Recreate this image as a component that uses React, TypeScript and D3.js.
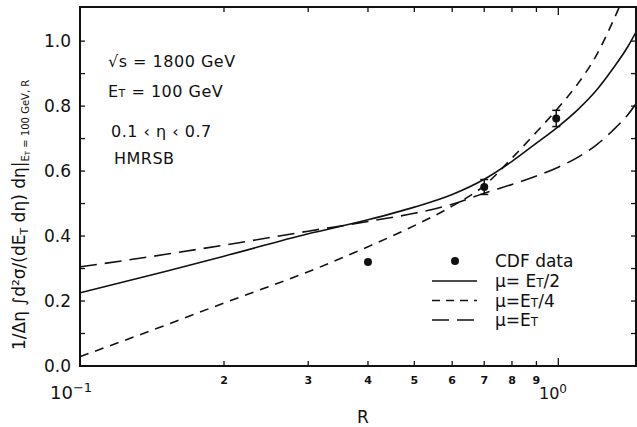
import React from 'react';
import * as d3 from 'd3';

// curve values (R, normalised cross section)
const R_SOLID = [0.1, 0.15, 0.2, 0.3, 0.4, 0.5, 0.6, 0.7, 0.8, 0.9, 1.0, 1.1, 1.2, 1.3, 1.4, 1.45];
const MU_HALF = [0.225, 0.29, 0.338, 0.407, 0.45, 0.489, 0.528, 0.575, 0.63, 0.686, 0.737, 0.79, 0.848, 0.915, 0.985, 1.025];

const R_SHORT = [0.1, 0.15, 0.2, 0.3, 0.4, 0.5, 0.6, 0.7, 0.8, 0.9, 1.0, 1.1, 1.2, 1.3, 1.4];
const MU_QUARTER = [0.029, 0.124, 0.194, 0.29, 0.367, 0.432, 0.492, 0.555, 0.64, 0.72, 0.795, 0.87, 0.955, 1.06, 1.17];

const R_LONG = [0.1, 0.15, 0.2, 0.3, 0.4, 0.5, 0.6, 0.7, 0.8, 0.9, 1.0, 1.1, 1.2, 1.3, 1.4, 1.45];
const MU_FULL = [0.305, 0.343, 0.372, 0.415, 0.445, 0.47, 0.498, 0.532, 0.559, 0.585, 0.612, 0.643, 0.68, 0.725, 0.775, 0.805];

const CDF_R = [0.4, 0.7, 0.99];
const CDF_VAL = [0.32, 0.551, 0.762];
const CDF_ERR = [0, 0.023, 0.025];

const X_MINOR = [0.2, 0.3, 0.4, 0.5, 0.6, 0.7, 0.8, 0.9];
const X_MINOR_LABELS = ['2', '3', '4', '5', '6', '7', '8', '9'];
const Y_TICKS = [0, 0.1, 0.2, 0.3, 0.4, 0.5, 0.6, 0.7, 0.8, 0.9, 1.0];
const Y_LABELS = [0, 0.2, 0.4, 0.6, 0.8, 1.0];

const W = 637;
const H = 427;
const L = 80, R = 636, T = 7, B = 366;
const FONT = '"DejaVu Sans", Verdana, sans-serif';

export default function App() {
  const x = d3.scaleLog().domain([0.1, 1.4535]).range([L, R]);
  const y = d3.scaleLinear().domain([0, 1.105]).range([B, T]);

  const line = d3.line<[number, number]>()
    .x(d => x(d[0]))
    .y(d => y(d[1]))
    .curve(d3.curveMonotoneX);

  const solid = line(R_SOLID.map((r, i) => [r, MU_HALF[i]]));
  const shortD = line(R_SHORT.map((r, i) => [r, MU_QUARTER[i]]));
  const longD = line(R_LONG.map((r, i) => [r, MU_FULL[i]]));

  const legendRows = [
    { label: 'μ= E', sub: 'T', rest: '/2', dash: null },
    { label: 'μ=E', sub: 'T', rest: '/4', dash: '8,6' },
    { label: 'μ=E', sub: 'T', rest: '', dash: '17,8' },
  ];

  return (
    <svg width={W} height={H} style={{ position: 'absolute', left: 0, top: 0, background: '#fff' }}
      fontFamily={FONT}>
      <defs>
        <clipPath id="plot">
          <rect x={L} y={T} width={R - L} height={B - T} />
        </clipPath>
      </defs>

      {/* curves */}
      <g clipPath="url(#plot)" fill="none" stroke="#111" strokeWidth={1.6}>
        <path d={solid || ''} />
        <path d={shortD || ''} strokeDasharray="9,7" />
        <path d={longD || ''} strokeDasharray="17,8" />
      </g>

      {/* CDF data */}
      <g fill="#111" stroke="#111">
        {CDF_R.map((r, i) => (
          <g key={i}>
            {CDF_ERR[i] > 0 && (
              <g strokeWidth={1.5}>
                <line x1={x(r)} x2={x(r)} y1={y(CDF_VAL[i] - CDF_ERR[i])} y2={y(CDF_VAL[i] + CDF_ERR[i])} />
                <line x1={x(r) - 4} x2={x(r) + 4} y1={y(CDF_VAL[i] - CDF_ERR[i])} y2={y(CDF_VAL[i] - CDF_ERR[i])} />
                <line x1={x(r) - 4} x2={x(r) + 4} y1={y(CDF_VAL[i] + CDF_ERR[i])} y2={y(CDF_VAL[i] + CDF_ERR[i])} />
              </g>
            )}
            <circle cx={x(r)} cy={y(CDF_VAL[i])} r={4} stroke="none" />
          </g>
        ))}
      </g>

      {/* frame */}
      <rect x={L} y={T} width={R - L} height={B - T} fill="none" stroke="#111" strokeWidth={2} />

      {/* ticks, all pointing inward */}
      <g stroke="#111" strokeWidth={1.3}>
        {X_MINOR.map((r, i) => (
          <g key={i}>
            <line x1={x(r)} x2={x(r)} y1={B} y2={B - 5} />
            <line x1={x(r)} x2={x(r)} y1={T} y2={T + 5} />
          </g>
        ))}
        <line x1={x(1)} x2={x(1)} y1={B} y2={B - 8} />
        <line x1={x(1)} x2={x(1)} y1={T} y2={T + 8} />
        {Y_TICKS.map((v, i) => (
          <g key={i}>
            <line x1={L} x2={L + 5} y1={y(v)} y2={y(v)} />
            <line x1={R} x2={R - 5} y1={y(v)} y2={y(v)} />
          </g>
        ))}
      </g>

      {/* x tick labels */}
      <g fontSize={11} fill="#111" textAnchor="middle" fontWeight="bold">
        {X_MINOR.map((r, i) => (
          <text key={i} x={x(r)} y={384}>{X_MINOR_LABELS[i]}</text>
        ))}
      </g>
      <text x={50} y={399} fontSize={18} fill="#111">10<tspan dy={-7} fontSize={13}>−1</tspan></text>
      <text x={539} y={399} fontSize={16} fill="#111">10<tspan dy={-6} fontSize={12}>0</tspan></text>
      <text x={363} y={423} fontSize={17} fill="#111" textAnchor="middle">R</text>

      {/* y tick labels */}
      <g fontSize={17} fill="#111" textAnchor="end">
        {Y_LABELS.map((v, i) => (
          <text key={i} x={71} y={y(v) + 6}>{d3.format('.1f')(v)}</text>
        ))}
      </g>

      {/* y axis title */}
      <text transform="translate(25,350) rotate(-90)" fontSize={17} fill="#111">
        1/Δη ∫d²σ/(dE<tspan fontSize={11} dy={3}>T</tspan><tspan dy={-3}> dη) dη|</tspan>
        <tspan fontSize={10} dy={4}>E</tspan><tspan fontSize={7} dy={1}>T</tspan>
        <tspan fontSize={10} dy={-1}> = 100 GeV, R</tspan>
      </text>

      {/* annotations */}
      <g fontSize={16} fill="#111" letterSpacing={0.5}>
        <text x={108} y={67}>√s = 1800 GeV</text>
        <text x={108} y={97}>E<tspan fontSize={11}>T</tspan> = 100 GeV</text>
        <text x={111} y={137}>0.1 ‹ η ‹ 0.7</text>
        <text x={114} y={164}>HMRSB</text>
      </g>

      {/* legend */}
      <circle cx={455} cy={261} r={4} fill="#111" />
      <text x={495} y={267} fontSize={17} fill="#111">CDF data</text>
      {legendRows.map((row, i) => {
        const ly = 281 + i * 19.5;
        return (
          <g key={i}>
            <line x1={432} x2={477} y1={ly} y2={ly} stroke="#111" strokeWidth={1.6}
              strokeDasharray={row.dash || undefined} />
            <text x={495} y={ly + 6} fontSize={17} fill="#111">
              {row.label}<tspan fontSize={12}>{row.sub}</tspan>{row.rest}
            </text>
          </g>
        );
      })}
    </svg>
  );
}
